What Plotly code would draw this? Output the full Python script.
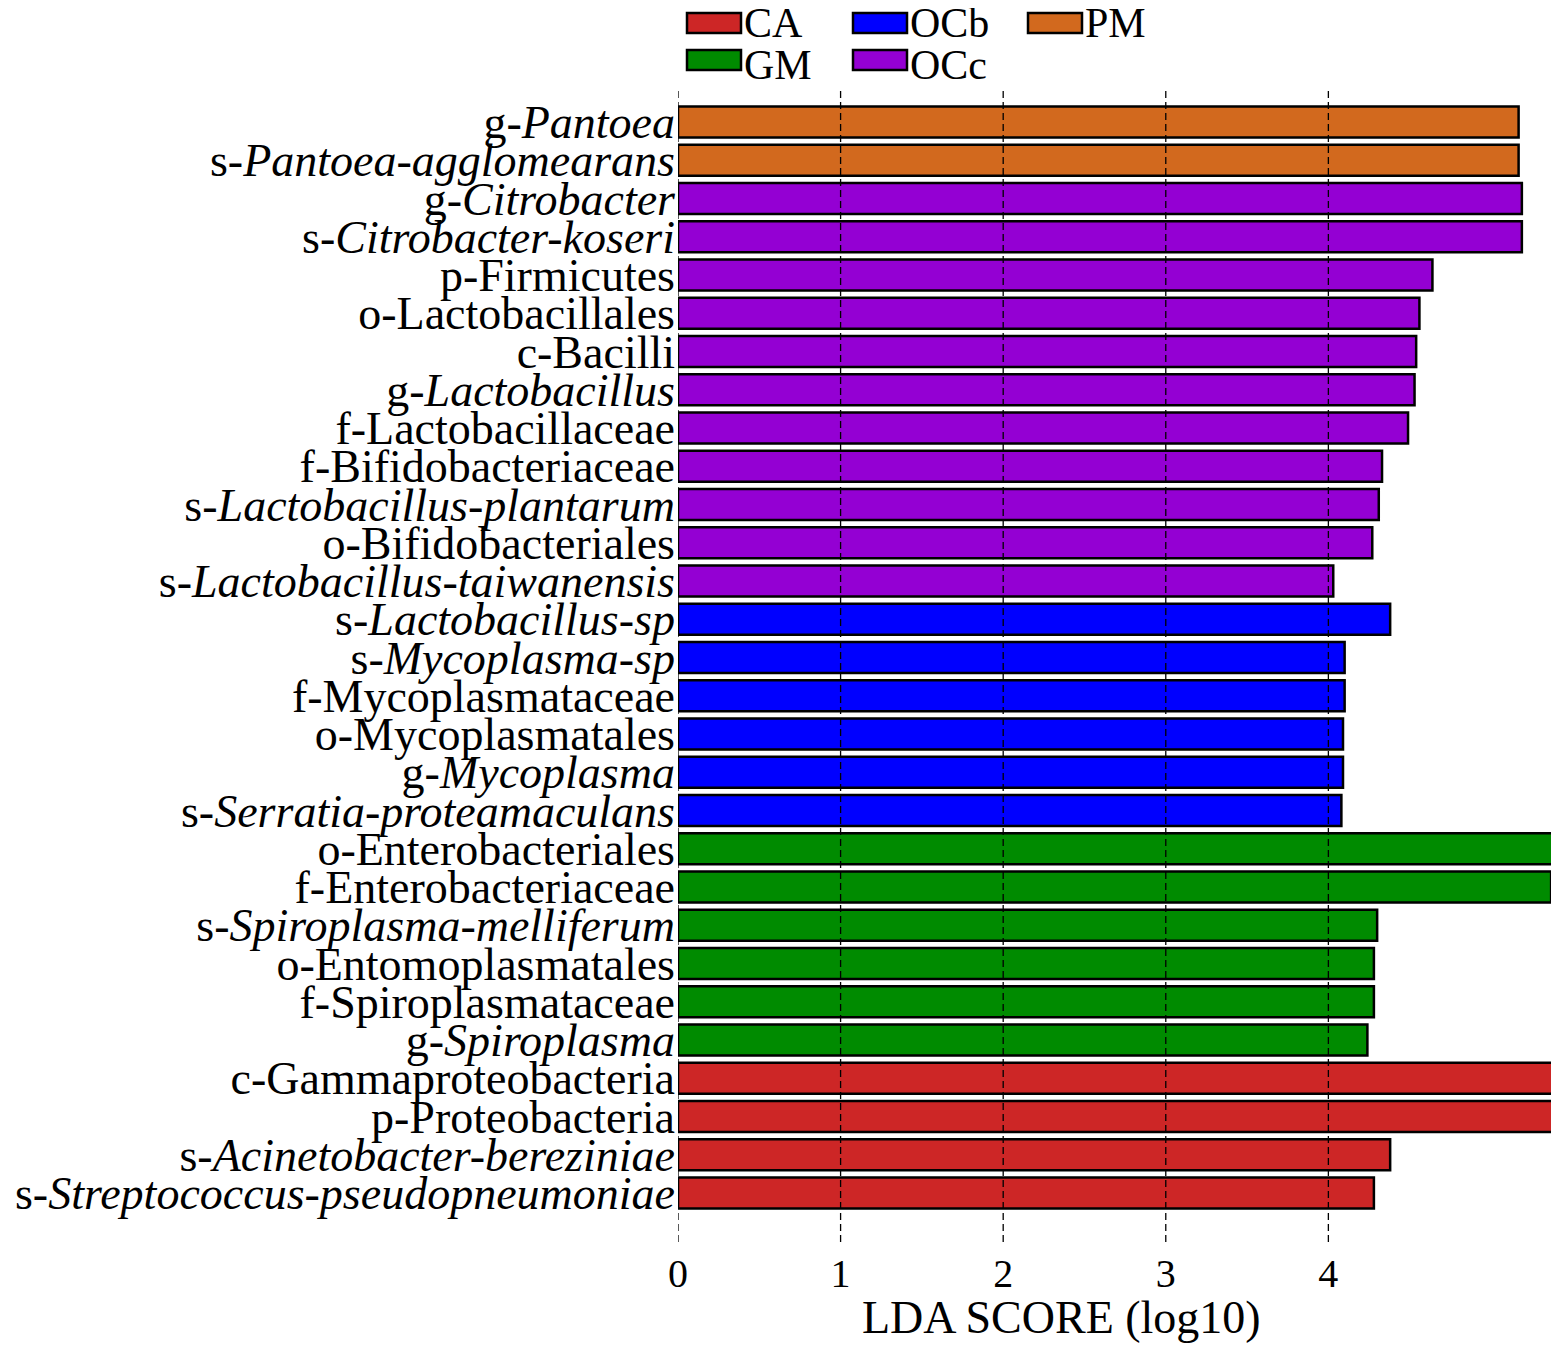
import plotly.graph_objects as go

# taxa from top to bottom, with group and LDA score
taxa = ['g-<i>Pantoea</i>', 's-<i>Pantoea-agglomearans</i>',
        'g-<i>Citrobacter</i>', 's-<i>Citrobacter-koseri</i>', 'p-Firmicutes', 'o-Lactobacillales',
        'c-Bacilli', 'g-<i>Lactobacillus</i>', 'f-Lactobacillaceae', 'f-Bifidobacteriaceae',
        's-<i>Lactobacillus-plantarum</i>', 'o-Bifidobacteriales', 's-<i>Lactobacillus-taiwanensis</i>',
        's-<i>Lactobacillus-sp</i>', 's-<i>Mycoplasma-sp</i>', 'f-Mycoplasmataceae', 'o-Mycoplasmatales',
        'g-<i>Mycoplasma</i>', 's-<i>Serratia-proteamaculans</i>',
        'o-Enterobacteriales', 'f-Enterobacteriaceae', 's-<i>Spiroplasma-melliferum</i>',
        'o-Entomoplasmatales', 'f-Spiroplasmataceae', 'g-<i>Spiroplasma</i>',
        'c-Gammaproteobacteria', 'p-Proteobacteria', 's-<i>Acinetobacter-bereziniae</i>',
        's-<i>Streptococcus-pseudopneumoniae</i>']
groups = ['PM', 'PM',
          'OCc', 'OCc', 'OCc', 'OCc', 'OCc', 'OCc', 'OCc', 'OCc', 'OCc', 'OCc', 'OCc',
          'OCb', 'OCb', 'OCb', 'OCb', 'OCb', 'OCb',
          'GM', 'GM', 'GM', 'GM', 'GM', 'GM',
          'CA', 'CA', 'CA', 'CA']
lda = [5.17, 5.17,
       5.19, 5.19, 4.64, 4.56, 4.54, 4.53, 4.49, 4.33, 4.31, 4.27, 4.03,
       4.38, 4.10, 4.10, 4.09, 4.09, 4.08,
       5.38, 5.37, 4.30, 4.28, 4.28, 4.24,
       5.38, 5.38, 4.38, 4.28]

group_names = ['CA', 'GM', 'OCb', 'OCc', 'PM']
group_colors = {'CA': '#CD2626', 'GM': '#008B00', 'OCb': '#0000FF', 'OCc': '#9400D3', 'PM': '#D2691E'}
x_ticks = [0, 1, 2, 3, 4]

# page has an 8px body margin, so the figure is a bit smaller than the window
OFF = 8
W, H = 1559 - OFF, 1350 - OFF
ML, MR, MT, MB = 678 - OFF, 3, 88 - OFF, 1350 - 1242
font = 'Liberation Serif, Times New Roman, serif'

def px_x(p):  # window pixel -> paper
    return (p - OFF - ML) / (W - ML - MR)

def px_y(p):
    return (H - MB - (p - OFF)) / (H - MT - MB)

fig = go.Figure()
for g in group_names:
    ys = [t for t, gg in zip(taxa, groups) if gg == g]
    xs = [v for v, gg in zip(lda, groups) if gg == g]
    fig.add_trace(go.Bar(x=xs, y=ys, orientation='h', name=g, opacity=1,
                         marker=dict(color=group_colors[g], line=dict(color='black', width=2.5)),
                         showlegend=False))

# dashed grid lines drawn over the bars
for t in x_ticks:
    fig.add_shape(type='line', xref='x', yref='paper', x0=t, x1=t, y0=0, y1=1,
                  line=dict(color='black', width=1.3, dash='7px,4px'), layer='above')

# legend in two rows like the original (column-major order)
leg_pos = {'CA': (687, 23, 23), 'GM': (687, 60, 65), 'OCb': (853, 23, 23), 'OCc': (853, 60, 65), 'PM': (1028, 23, 23)}
for g in group_names:
    lx, ly, ty = leg_pos[g]
    fig.add_shape(type='rect', xref='paper', yref='paper',
                  x0=px_x(lx), x1=px_x(lx + 54), y0=px_y(ly - 10), y1=px_y(ly + 10),
                  fillcolor=group_colors[g], line=dict(color='black', width=2.5))
    fig.add_annotation(text=g, xref='paper', yref='paper', x=px_x(lx + 56), y=px_y(ty),
                       xanchor='left', yanchor='middle', showarrow=False, borderpad=0,
                       font=dict(size=42, color='black', family=font))

# axis title, centred where the original has it
fig.add_annotation(text='LDA SCORE (log10)', xref='paper', yref='paper', x=px_x(1061), y=px_y(1318),
                   xanchor='center', yanchor='middle', showarrow=False,
                   font=dict(size=46, color='black', family=font))

fig.update_layout(
    width=W, height=H, barmode='overlay', bargap=0.19,
    plot_bgcolor='white', paper_bgcolor='white',
    margin=dict(l=ML, r=MR, t=MT, b=MB),
    font=dict(family=font, color='black'),
)
fig.update_xaxes(range=[0, 5.4], tickvals=x_ticks, showgrid=False, zeroline=False, showline=False,
                 ticks='', tickfont=dict(size=40), ticklabelstandoff=4)
fig.update_yaxes(categoryorder='array', categoryarray=taxa, tickmode='array', tickvals=taxa,
                 range=[29.28, -0.89], showgrid=False, zeroline=False, showline=False, ticks='',
                 tickfont=dict(size=46), ticklabelstandoff=2)

fig.write_html('out.html')
